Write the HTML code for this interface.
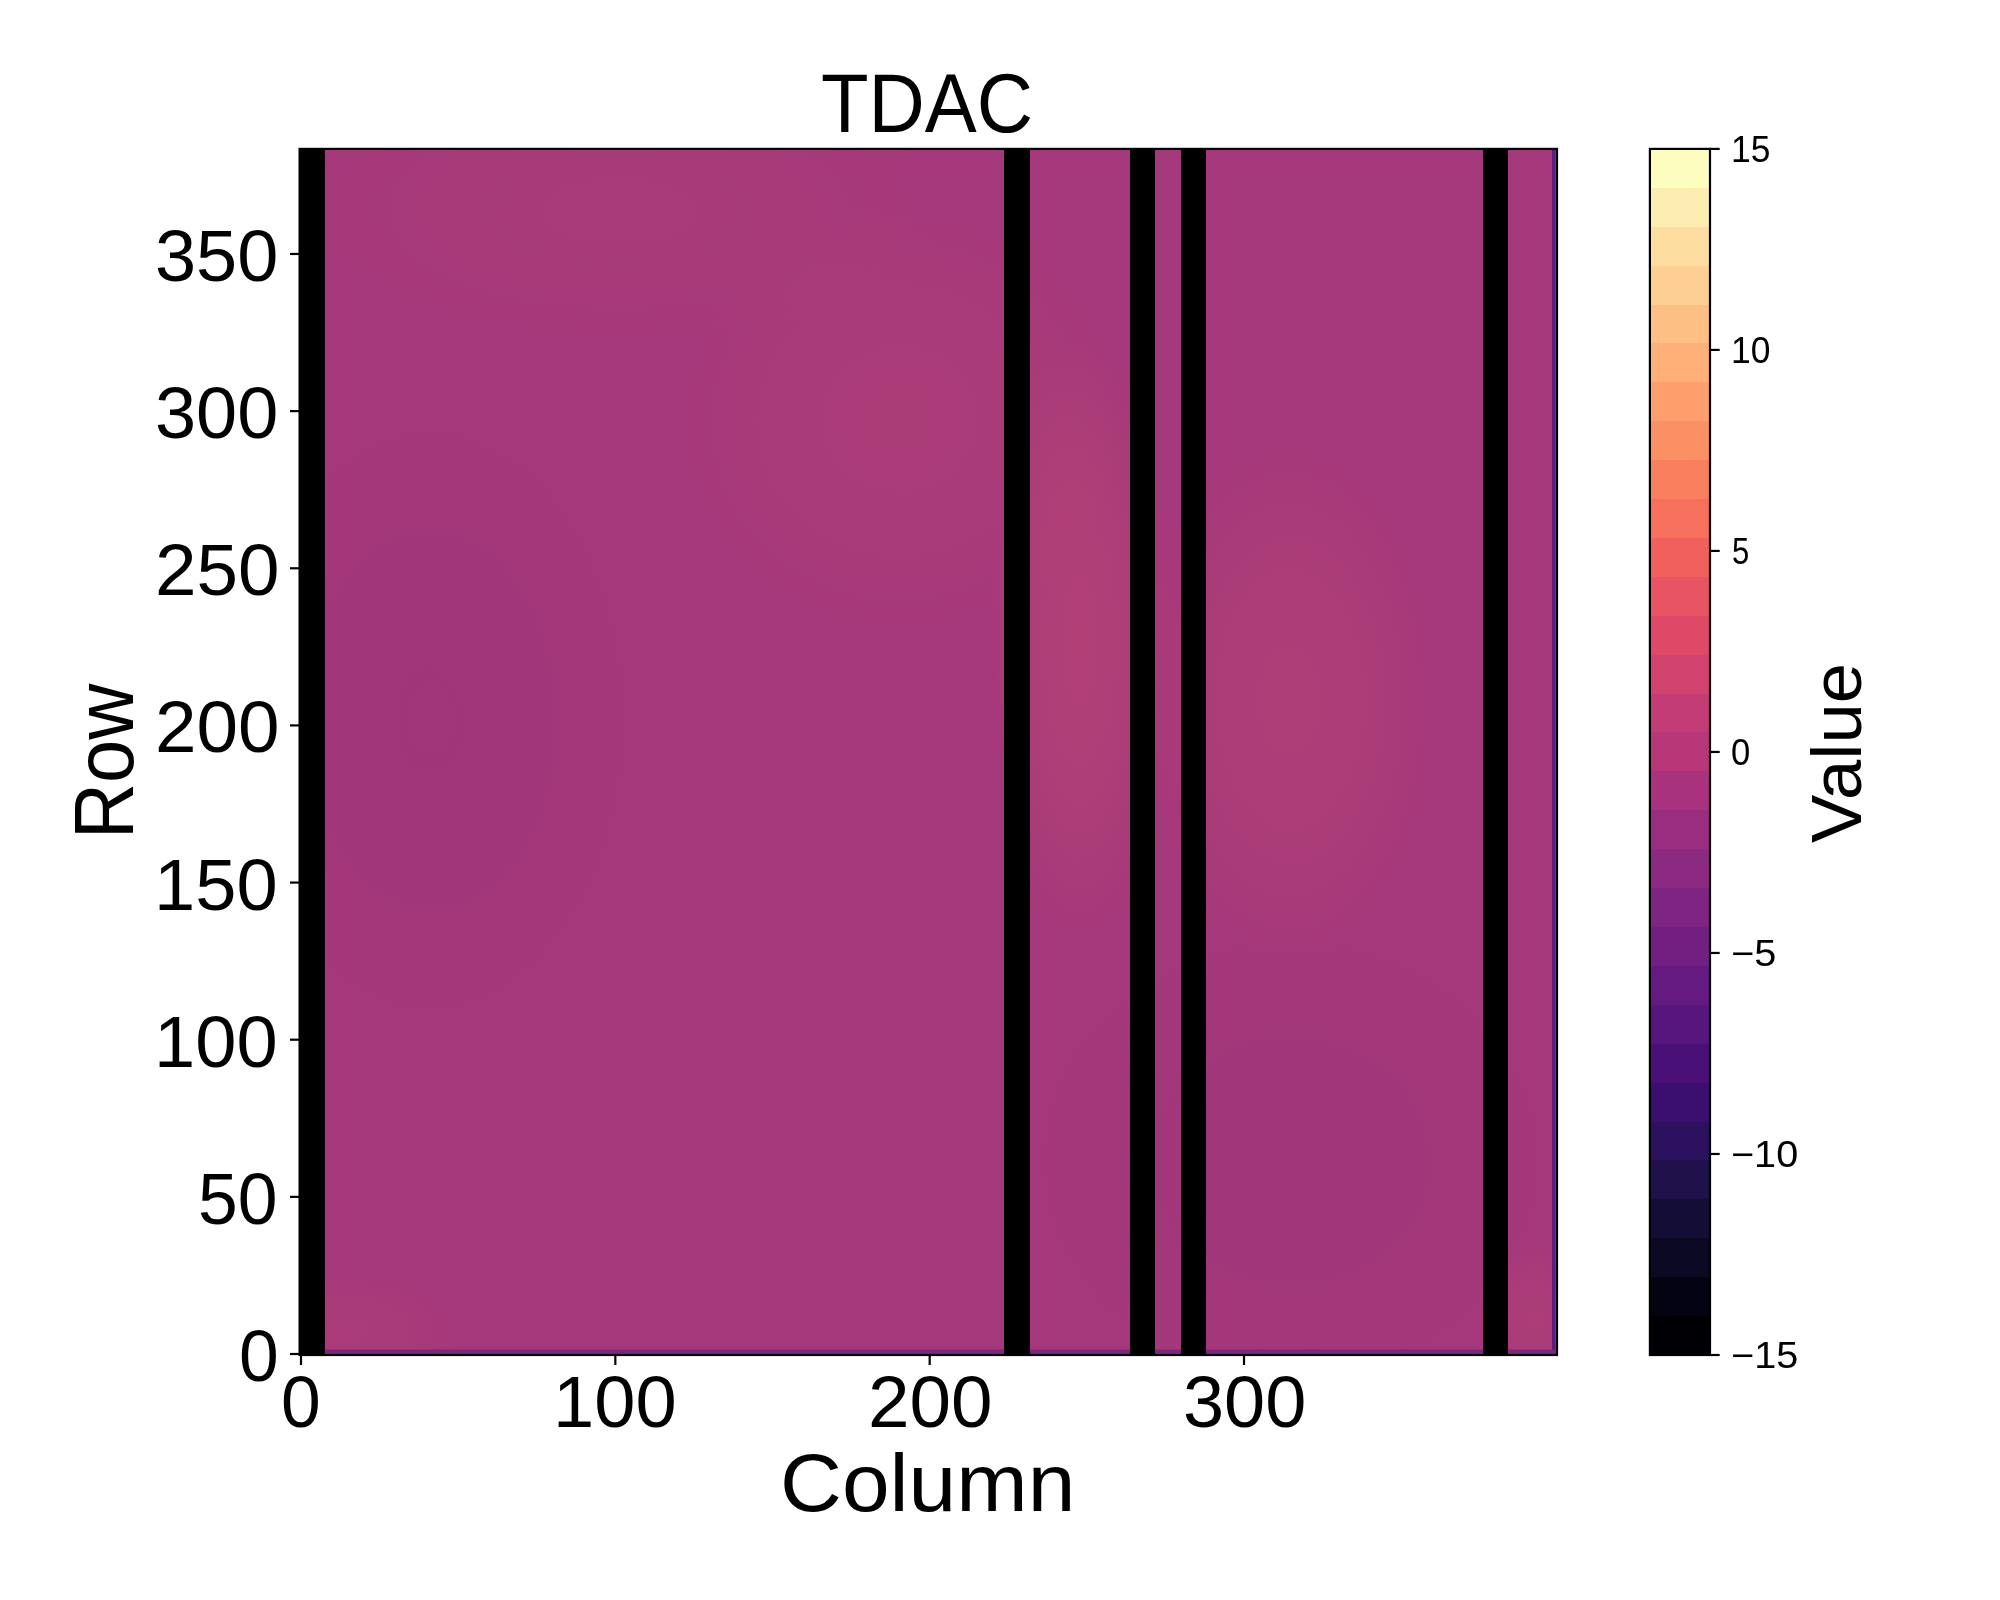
<!DOCTYPE html>
<html>
<head>
<meta charset="utf-8">
<title>TDAC</title>
<style>
html,body{margin:0;padding:0;background:#fff;}
body{width:2000px;height:1600px;overflow:hidden;position:relative;}
svg{position:absolute;left:0;top:0;display:block;will-change:transform;}
text{font-family:"Liberation Sans",sans-serif;fill:#000;}
</style>
</head>
<body>
<svg width="2000" height="1600" viewBox="0 0 2000 1600">
<defs>
<linearGradient id="cb" x1="0" y1="0" x2="0" y2="1"><stop offset="0.00000" stop-color="#fcfdbf"/><stop offset="0.03226" stop-color="#fcfdbf"/><stop offset="0.03226" stop-color="#fceeb0"/><stop offset="0.06452" stop-color="#fceeb0"/><stop offset="0.06452" stop-color="#fddea0"/><stop offset="0.09677" stop-color="#fddea0"/><stop offset="0.09677" stop-color="#fecf92"/><stop offset="0.12903" stop-color="#fecf92"/><stop offset="0.12903" stop-color="#febf84"/><stop offset="0.16129" stop-color="#febf84"/><stop offset="0.16129" stop-color="#feb078"/><stop offset="0.19355" stop-color="#feb078"/><stop offset="0.19355" stop-color="#fe9f6d"/><stop offset="0.22581" stop-color="#fe9f6d"/><stop offset="0.22581" stop-color="#fc9065"/><stop offset="0.25806" stop-color="#fc9065"/><stop offset="0.25806" stop-color="#fa7f5e"/><stop offset="0.29032" stop-color="#fa7f5e"/><stop offset="0.29032" stop-color="#f7705c"/><stop offset="0.32258" stop-color="#f7705c"/><stop offset="0.32258" stop-color="#f1605d"/><stop offset="0.35484" stop-color="#f1605d"/><stop offset="0.35484" stop-color="#e95462"/><stop offset="0.38710" stop-color="#e95462"/><stop offset="0.38710" stop-color="#de4968"/><stop offset="0.41935" stop-color="#de4968"/><stop offset="0.41935" stop-color="#d2426f"/><stop offset="0.45161" stop-color="#d2426f"/><stop offset="0.45161" stop-color="#c43c75"/><stop offset="0.48387" stop-color="#c43c75"/><stop offset="0.48387" stop-color="#b73779"/><stop offset="0.51613" stop-color="#b73779"/><stop offset="0.51613" stop-color="#a8327d"/><stop offset="0.54839" stop-color="#a8327d"/><stop offset="0.54839" stop-color="#992d80"/><stop offset="0.58065" stop-color="#992d80"/><stop offset="0.58065" stop-color="#8c2981"/><stop offset="0.61290" stop-color="#8c2981"/><stop offset="0.61290" stop-color="#7e2482"/><stop offset="0.64516" stop-color="#7e2482"/><stop offset="0.64516" stop-color="#721f81"/><stop offset="0.67742" stop-color="#721f81"/><stop offset="0.67742" stop-color="#641a80"/><stop offset="0.70968" stop-color="#641a80"/><stop offset="0.70968" stop-color="#57157e"/><stop offset="0.74194" stop-color="#57157e"/><stop offset="0.74194" stop-color="#491078"/><stop offset="0.77419" stop-color="#491078"/><stop offset="0.77419" stop-color="#3b0f70"/><stop offset="0.80645" stop-color="#3b0f70"/><stop offset="0.80645" stop-color="#2c115f"/><stop offset="0.83871" stop-color="#2c115f"/><stop offset="0.83871" stop-color="#20114b"/><stop offset="0.87097" stop-color="#20114b"/><stop offset="0.87097" stop-color="#140e36"/><stop offset="0.90323" stop-color="#140e36"/><stop offset="0.90323" stop-color="#0b0924"/><stop offset="0.93548" stop-color="#0b0924"/><stop offset="0.93548" stop-color="#030312"/><stop offset="0.96774" stop-color="#030312"/><stop offset="0.96774" stop-color="#000004"/><stop offset="1.00000" stop-color="#000004"/></linearGradient>
<radialGradient id="b1" gradientUnits="userSpaceOnUse" cx="0" cy="0" r="1" gradientTransform="translate(1080.0 640.0) scale(90.0 300.0)"><stop offset="0" stop-color="#d2586e" stop-opacity="0.280"/><stop offset="0.5" stop-color="#d2586e" stop-opacity="0.196"/><stop offset="1" stop-color="#d2586e" stop-opacity="0"/></radialGradient>
<radialGradient id="b2" gradientUnits="userSpaceOnUse" cx="0" cy="0" r="1" gradientTransform="translate(1290.0 700.0) scale(150.0 260.0)"><stop offset="0" stop-color="#d2586e" stop-opacity="0.200"/><stop offset="0.5" stop-color="#d2586e" stop-opacity="0.140"/><stop offset="1" stop-color="#d2586e" stop-opacity="0"/></radialGradient>
<radialGradient id="d2" gradientUnits="userSpaceOnUse" cx="0" cy="0" r="1" gradientTransform="translate(1290.0 1160.0) scale(260.0 230.0)"><stop offset="0" stop-color="#85297f" stop-opacity="0.120"/><stop offset="0.5" stop-color="#85297f" stop-opacity="0.084"/><stop offset="1" stop-color="#85297f" stop-opacity="0"/></radialGradient>
<radialGradient id="b6" gradientUnits="userSpaceOnUse" cx="0" cy="0" r="1" gradientTransform="translate(620.0 210.0) scale(330.0 140.0)"><stop offset="0" stop-color="#d2586e" stop-opacity="0.080"/><stop offset="0.5" stop-color="#d2586e" stop-opacity="0.056"/><stop offset="1" stop-color="#d2586e" stop-opacity="0"/></radialGradient>
<radialGradient id="b3" gradientUnits="userSpaceOnUse" cx="0" cy="0" r="1" gradientTransform="translate(900.0 420.0) scale(230.0 220.0)"><stop offset="0" stop-color="#d2586e" stop-opacity="0.130"/><stop offset="0.5" stop-color="#d2586e" stop-opacity="0.091"/><stop offset="1" stop-color="#d2586e" stop-opacity="0"/></radialGradient>
<radialGradient id="d1" gradientUnits="userSpaceOnUse" cx="0" cy="0" r="1" gradientTransform="translate(430.0 720.0) scale(200.0 300.0)"><stop offset="0" stop-color="#85297f" stop-opacity="0.150"/><stop offset="0.5" stop-color="#85297f" stop-opacity="0.105"/><stop offset="1" stop-color="#85297f" stop-opacity="0"/></radialGradient>
<radialGradient id="b4" gradientUnits="userSpaceOnUse" cx="0" cy="0" r="1" gradientTransform="translate(340.0 1330.0) scale(120.0 60.0)"><stop offset="0" stop-color="#d2586e" stop-opacity="0.120"/><stop offset="0.5" stop-color="#d2586e" stop-opacity="0.084"/><stop offset="1" stop-color="#d2586e" stop-opacity="0"/></radialGradient>
<radialGradient id="b5" gradientUnits="userSpaceOnUse" cx="0" cy="0" r="1" gradientTransform="translate(1535.0 1320.0) scale(60.0 80.0)"><stop offset="0" stop-color="#d2586e" stop-opacity="0.150"/><stop offset="0.5" stop-color="#d2586e" stop-opacity="0.105"/><stop offset="1" stop-color="#d2586e" stop-opacity="0"/></radialGradient>
</defs>
<rect x="0" y="0" width="2000" height="1600" fill="#fff"/>
<g id="heatmap">
<rect x="299.60" y="148.90" width="1257.40" height="1206.10" fill="#a5387a"/>
<rect x="299.6" y="148.9" width="1257.4" height="1206.1" fill="url(#b1)"/>
<rect x="299.6" y="148.9" width="1257.4" height="1206.1" fill="url(#b2)"/>
<rect x="299.6" y="148.9" width="1257.4" height="1206.1" fill="url(#d2)"/>
<rect x="299.6" y="148.9" width="1257.4" height="1206.1" fill="url(#b6)"/>
<rect x="299.6" y="148.9" width="1257.4" height="1206.1" fill="url(#b3)"/>
<rect x="299.6" y="148.9" width="1257.4" height="1206.1" fill="url(#d1)"/>
<rect x="299.6" y="148.9" width="1257.4" height="1206.1" fill="url(#b4)"/>
<rect x="299.6" y="148.9" width="1257.4" height="1206.1" fill="url(#b5)"/>
<rect x="1552" y="148.9" width="3.2" height="1206.1" fill="#5e1c7e"/>
<rect x="299.6" y="1349.5" width="1257.4" height="5.5" fill="#7d2680"/>
</g>
<g id="dead-columns" fill="#000">
<rect x="299.60" y="148.90" width="25.30" height="1206.10"/>
<rect x="1004.00" y="148.90" width="26.00" height="1206.10"/>
<rect x="1130.00" y="148.90" width="25.00" height="1206.10"/>
<rect x="1181.00" y="148.90" width="25.00" height="1206.10"/>
<rect x="1483.00" y="148.90" width="25.00" height="1206.10"/>
</g>
<rect x="299.60" y="148.90" width="1257.40" height="1206.10" fill="none" stroke="#000" stroke-width="2.20"/>
<rect x="1649.90" y="148.90" width="60.10" height="1206.10" fill="url(#cb)" stroke="#000" stroke-width="2.20"/>
<g stroke="#000" stroke-width="2.20">
<line x1="290.0" y1="1354.00" x2="299.60" y2="1354.00"/>
<line x1="290.0" y1="1196.86" x2="299.60" y2="1196.86"/>
<line x1="290.0" y1="1039.71" x2="299.60" y2="1039.71"/>
<line x1="290.0" y1="882.57" x2="299.60" y2="882.57"/>
<line x1="290.0" y1="725.42" x2="299.60" y2="725.42"/>
<line x1="290.0" y1="568.27" x2="299.60" y2="568.27"/>
<line x1="290.0" y1="411.13" x2="299.60" y2="411.13"/>
<line x1="290.0" y1="253.98" x2="299.60" y2="253.98"/>
<line x1="301.00" y1="1355.00" x2="301.00" y2="1365.0"/>
<line x1="615.34" y1="1355.00" x2="615.34" y2="1365.0"/>
<line x1="929.68" y1="1355.00" x2="929.68" y2="1365.0"/>
<line x1="1244.02" y1="1355.00" x2="1244.02" y2="1365.0"/>
<line x1="1710.00" y1="1355.00" x2="1719.70" y2="1355.00"/>
<line x1="1710.00" y1="1153.98" x2="1719.70" y2="1153.98"/>
<line x1="1710.00" y1="952.97" x2="1719.70" y2="952.97"/>
<line x1="1710.00" y1="751.95" x2="1719.70" y2="751.95"/>
<line x1="1710.00" y1="550.93" x2="1719.70" y2="550.93"/>
<line x1="1710.00" y1="349.92" x2="1719.70" y2="349.92"/>
<line x1="1710.00" y1="148.90" x2="1719.70" y2="148.90"/>
</g>
<g id="labels">
<text x="821.00" y="132.00" font-size="83.36" textLength="212.12" lengthAdjust="spacingAndGlyphs">TDAC</text>
<text x="155.00" y="281.16" font-size="72.31" textLength="123.32" lengthAdjust="spacingAndGlyphs">350</text>
<text x="155.00" y="438.08" font-size="72.31" textLength="123.32" lengthAdjust="spacingAndGlyphs">300</text>
<text x="155.00" y="595.00" font-size="72.31" textLength="124.47" lengthAdjust="spacingAndGlyphs">250</text>
<text x="155.00" y="751.92" font-size="72.31" textLength="124.47" lengthAdjust="spacingAndGlyphs">200</text>
<text x="154.00" y="909.84" font-size="72.31" textLength="123.60" lengthAdjust="spacingAndGlyphs">150</text>
<text x="154.00" y="1066.76" font-size="72.31" textLength="123.60" lengthAdjust="spacingAndGlyphs">100</text>
<text x="198.00" y="1223.68" font-size="72.31" textLength="79.46" lengthAdjust="spacingAndGlyphs">50</text>
<text x="239.00" y="1380.60" font-size="72.31" textLength="39.70" lengthAdjust="spacingAndGlyphs">0</text>
<text x="281.00" y="1427.00" font-size="72.31" textLength="39.70" lengthAdjust="spacingAndGlyphs">0</text>
<text x="553.00" y="1427.00" font-size="72.31" textLength="123.60" lengthAdjust="spacingAndGlyphs">100</text>
<text x="868.00" y="1427.00" font-size="72.31" textLength="124.47" lengthAdjust="spacingAndGlyphs">200</text>
<text x="1183.00" y="1427.00" font-size="72.31" textLength="123.32" lengthAdjust="spacingAndGlyphs">300</text>
<text x="780.00" y="1511.00" font-size="82.10" textLength="295.33" lengthAdjust="spacingAndGlyphs">Column</text>
<text x="133.00" y="839.00" font-size="83.51" textLength="155.25" lengthAdjust="spacingAndGlyphs" transform="rotate(-90 133.00 839.00)">Row</text>
<text x="1731.00" y="162.00" font-size="36.34" textLength="39.41" lengthAdjust="spacingAndGlyphs">15</text>
<text x="1731.00" y="363.00" font-size="36.34" textLength="39.41" lengthAdjust="spacingAndGlyphs">10</text>
<text x="1732.00" y="564.00" font-size="36.34" textLength="17.31" lengthAdjust="spacingAndGlyphs">5</text>
<text x="1731.00" y="765.00" font-size="36.34" textLength="19.27" lengthAdjust="spacingAndGlyphs">0</text>
<text x="1731.00" y="966.00" font-size="36.34" textLength="45.34" lengthAdjust="spacingAndGlyphs">−5</text>
<text x="1731.00" y="1167.00" font-size="36.34" textLength="67.15" lengthAdjust="spacingAndGlyphs">−10</text>
<text x="1731.00" y="1368.00" font-size="36.34" textLength="67.22" lengthAdjust="spacingAndGlyphs">−15</text>
<text x="1861.00" y="843.00" font-size="70.83" textLength="180.05" lengthAdjust="spacingAndGlyphs" transform="rotate(-90 1861.00 843.00)">Value</text>
</g>
</svg>
</body>
</html>
